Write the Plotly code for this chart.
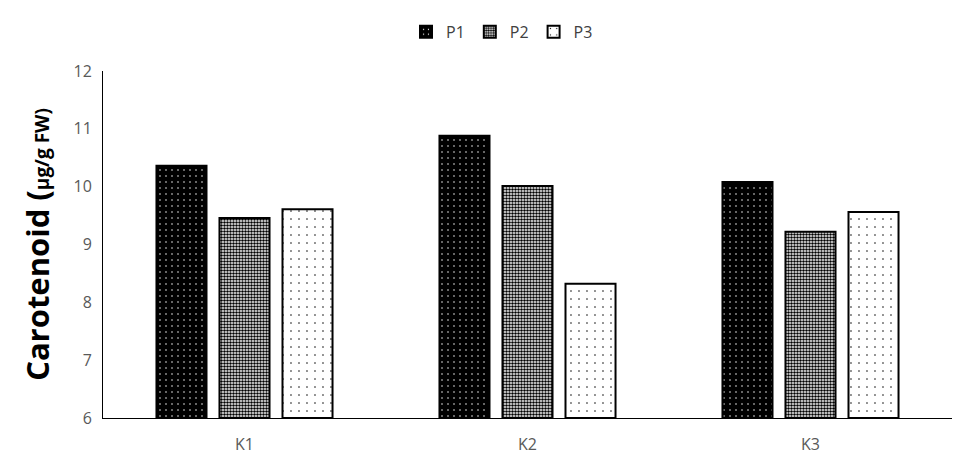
import plotly.graph_objects as go

categories = ["K1", "K2", "K3"]
series_names = ["P1", "P2", "P3"]
p1_values = [10.36, 10.88, 10.08]
p2_values = [9.46, 10.01, 9.22]
p3_values = [9.61, 8.32, 9.56]
y_ticks = [6, 7, 8, 9, 10, 11, 12]

styles = [
    dict(bg="black", fg="white", size=6, solidity=0.05),
    dict(bg="white", fg="black", size=3, solidity=0.55),
    dict(bg="white", fg="black", size=8, solidity=0.03),
]

fig = go.Figure()
for name, vals, st in zip(series_names, [p1_values, p2_values, p3_values], styles):
    fig.add_trace(go.Bar(
        x=categories, y=[v - 6 for v in vals], base=6, name=name,
        marker=dict(
            color=st["bg"],
            line=dict(color="black", width=2),
            pattern=dict(shape=".", bgcolor=st["bg"], fgcolor=st["fg"],
                         size=st["size"], solidity=st["solidity"], fillmode="replace"),
        ),
    ))

fig.update_layout(
    width=967, height=457,
    margin=dict(l=95, r=23, t=63, b=47, autoexpand=False),
    paper_bgcolor="white", plot_bgcolor="white",
    barmode="group", bargap=0.332, bargroupgap=0.206,
    font=dict(family="Open Sans, Liberation Sans, sans-serif", color="#595959", size=16),
    legend=dict(orientation="h", x=0.47, xanchor="center", y=0.985, yanchor="top",
                yref="container", font=dict(size=16, color="#404040"),
                itemwidth=30, traceorder="normal", tracegroupgap=0),
    xaxis=dict(showline=True, linecolor="black", linewidth=1, ticks="", showgrid=False,
               automargin=False, ticklabelstandoff=12,
               tickfont=dict(size=16, color="#595959")),
    yaxis=dict(range=[6, 12], tickvals=y_ticks, showline=True, linecolor="black", linewidth=1,
               ticks="", showgrid=False, zeroline=False, ticklabelstandoff=7,
               automargin=True,
               tickfont=dict(size=16, color="#595959"),
               title=dict(text="<b>Carotenoid (</b><span style='font-size:19px'><b>µg/g FW)</b></span>",
                          font=dict(size=31, color="black"), standoff=14)),
)

fig.write_html("out.html")
